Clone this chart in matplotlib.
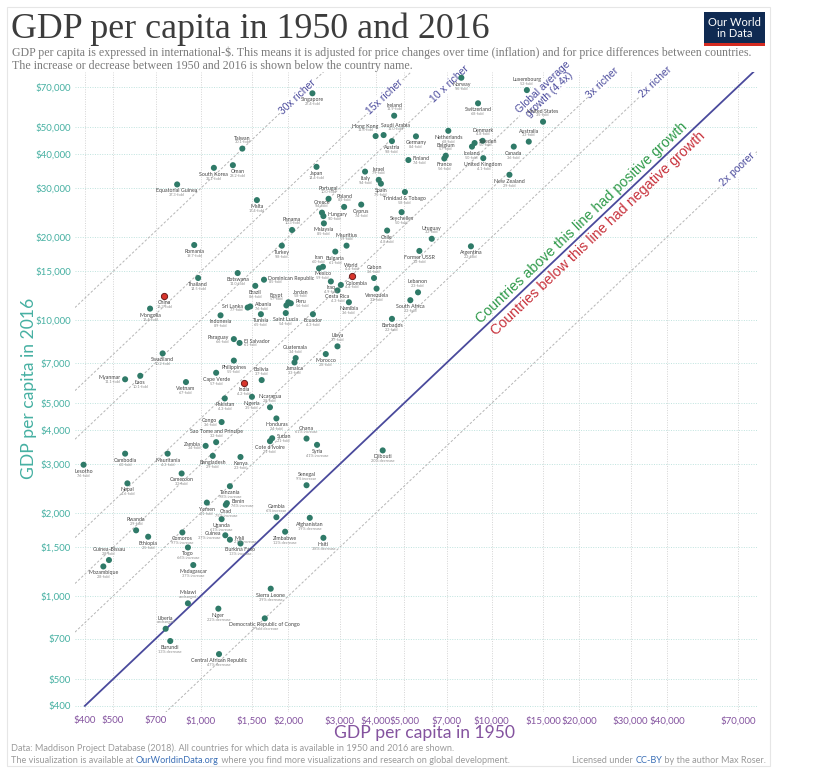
import math
import matplotlib
matplotlib.use("Agg")
import matplotlib.pyplot as plt
from matplotlib.patches import Rectangle
from matplotlib.ticker import NullLocator, FixedLocator
from matplotlib.transforms import IdentityTransform

# GDP per capita (int.-$)
countries = [
    "Singapore", "Ireland", "Hong Kong", "Saudi Arabia", "Austria", "Germany",
    "Netherlands", "Finland", "France", "Belgium", "Taiwan", "South Korea",
    "Oman", "Japan", "Israel", "Spain", "Italy", "Portugal", "Poland", "Cyprus",
    "Greece", "Hungary", "Malaysia", "Panama", "Malta", "Trinidad & Tobago",
    "Seychelles", "Chile", "Norway", "Luxembourg", "Switzerland",
    "United States", "Denmark", "Sweden", "Iceland", "Australia", "Canada",
    "United Kingdom", "New Zealand", "Uruguay", "Former USSR", "Argentina",
    "Equatorial Guinea", "Romania", "Thailand", "China", "Mongolia",
    "Botswana", "Dominican Republic", "Brazil", "Sri Lanka", "Albania",
    "Egypt", "Jordan", "Peru", "Tunisia", "Saint Lucia", "Indonesia",
    "Ecuador", "Paraguay", "El Salvador", "Swaziland", "Philippines",
    "Guatemala", "Jamaica", "Morocco", "Turkey", "Iran", "Mexico", "Bulgaria",
    "Mauritius", "Iraq", "World", "Gabon", "Colombia", "Costa Rica",
    "Venezuela", "Lebanon", "South Africa", "Namibia", "Barbados", "Libya",
    "Bolivia", "India", "Nigeria", "Nicaragua", "Myanmar", "Laos",
    "Cape Verde", "Vietnam", "Pakistan", "Congo", "Honduras",
    "Sao Tome and Principe", "Zambia", "Sudan", "Cote d'Ivoire", "Ghana",
    "Syria", "Cambodia", "Mauritania", "Bangladesh", "Kenya", "Lesotho",
    "Cameroon", "Nepal", "Senegal", "Tanzania", "Yemen", "Benin", "Chad",
    "Gambia", "Uganda", "Afghanistan", "Rwanda", "Ethiopia", "Comoros",
    "Guinea", "Mali", "Zimbabwe", "Haiti", "Burkina Faso", "Togo",
    "Guinea-Bissau", "Mozambique", "Madagascar", "Sierra Leone", "Malawi",
    "Niger", "Democratic Republic of Congo", "Liberia", "Burundi",
    "Central African Republic", "Djibouti",
]
gdp_1950 = [
    2420, 4620, 3990, 4250, 4540, 5490, 7090, 5170, 6870, 6950, 1390, 1110,
    1290, 2500, 4090, 4160, 3670, 2750, 3110, 3560, 2610, 2640, 2650, 2060,
    1560, 5030, 4900, 4370, 7860, 13200, 8970, 15000, 9300, 8730, 8550,
    13400, 11900, 9350, 11500, 6220, 5640, 8480, 830, 950, 980, 750, 670,
    1340, 1650, 1540, 1450, 1480, 1970, 2000, 2040, 1610, 1960, 1170, 2430,
    1300, 1360, 740, 1300, 2120, 2100, 2690, 1900, 2550, 2630, 2900, 3170,
    2800, 3300, 3940, 3030, 2950, 4020, 5580, 5250, 3230, 4540, 2950, 1620,
    1410, 1500, 1730, 550, 620, 1130, 890, 1210, 1180, 1820, 1130, 1040,
    1760, 1730, 2310, 2510, 550, 770, 1100, 1370, 396, 860, 560, 2310, 1260,
    1050, 1230, 1220, 1820, 1180, 2370, 600, 660, 865, 1215, 1260, 1950,
    2640, 1370, 904, 484, 463, 943, 1740, 904, 1150, 1660, 758, 786, 1156,
    4220,
]
gdp_2016 = [
    66300, 55000, 46400, 46800, 44500, 46300, 48500, 38000, 38500, 39400,
    41800, 35600, 36400, 35900, 32200, 31200, 34500, 27500, 25700, 26200,
    24500, 23800, 22400, 21200, 27200, 29100, 24600, 21100, 75500, 68100,
    61000, 52300, 44600, 43800, 42500, 44300, 42500, 38600, 33600, 19700,
    17800, 18500, 31000, 18700, 14200, 12200, 11000, 14800, 14000, 13300,
    11100, 11200, 11300, 11600, 11500, 10500, 10600, 10400, 10500, 8530,
    8260, 7570, 7130, 7280, 7020, 7530, 18600, 15400, 15600, 17700, 18600,
    13800, 14500, 14200, 13400, 12800, 13000, 12600, 11800, 11600, 10100,
    8030, 6060, 5900, 5270, 4830, 6100, 6280, 6440, 5960, 5200, 4270, 4400,
    3610, 3500, 3730, 3640, 3720, 3530, 3280, 3280, 3220, 3190, 2990, 2780,
    2560, 2520, 2500, 2180, 2170, 2140, 1930, 1900, 1920, 1730, 1640, 1700,
    1660, 1600, 1710, 1625, 1550, 1500, 1350, 1280, 1295, 1063, 941, 900,
    830, 761, 687, 616, 3370,
]

highlight = ["China", "India", "World"]

# where the country name sits relative to its dot (default: below)
label_side = {
    "Ireland": "a", "Hong Kong": "al", "Saudi Arabia": "ar", "Belgium": "a",
    "Taiwan": "a", "Israel": "a", "Sweden": "r", "Oman": "br",
    "Denmark": "a", "Australia": "a", "Luxembourg": "a", "United States": "a",
    "Finland": "r", "Portugal": "a", "Poland": "a", "Greece": "a",
    "Hungary": "r", "Panama": "a", "Mauritius": "a", "Iran": "a",
    "World": "a", "Gabon": "a", "Lebanon": "a",
    "Uruguay": "a", "Colombia": "r", "Libya": "a", "Guatemala": "a",
    "Bolivia": "a", "Nicaragua": "a", "Sudan": "r", "Ghana": "a",
    "Senegal": "a", "Zambia": "l", "Sao Tome and Principe": "a",
    "Congo": "l", "Paraguay": "l", "El Salvador": "r", "Sri Lanka": "l",
    "Albania": "r", "Egypt": "al", "Jordan": "ar", "Peru": "r",
    "Dominican Republic": "r", "Myanmar": "l", "Guinea-Bissau": "a",
    "Rwanda": "a", "Malawi": "a", "Liberia": "a", "Gambia": "a",
    "Benin": "r", "Mali": "r", "Guinea": "l",
}

multiples = [30, 15, 10, 4.4, 3, 2, 0.5]
multiple_labels = ["30x richer", "15x richer", "10 x richer",
                   "Global average\ngrowth (4.4x)", "3x richer", "2x richer",
                   "2x poorer"]
multiple_label_x = [2150, 4300, 7180, 15400, 24100, 36400, 70100]

x_ticks = [400, 500, 700, 1000, 1500, 2000, 3000, 4000, 5000, 7000, 10000,
           15000, 20000, 30000, 40000, 70000]
y_ticks = [400, 500, 700, 1000, 1500, 2000, 3000, 4000, 5000, 7000, 10000,
           15000, 20000, 30000, 40000, 50000, 70000]

W, H = 832, 778
TEAL = "#46b0a2"
PURPLE = "#84539f"
LINE_BLUE = "#4a4a9c"
DOT = "#2f7a68"

# pixel offsets (name, growth, alignment) for each label side
OFFSETS = {
    "b": ((0, -6.5), (0, -11), "center"),
    "br": ((5, -6.5), (5, -11), "center"),
    "a": ((0, 10.5), (0, 6.5), "center"),
    "al": ((-10, 10), (-10, 6), "center"),
    "ar": ((12, 10), (12, 6), "center"),
    "l": ((-4.5, 1.5), (-4.5, -2.5), "right"),
    "r": ((4.5, 1.5), (4.5, -2.5), "left"),
}


def growth_text(a, b):
    r = b / a
    if r >= 2:
        return f"{r:.1f}-fold"
    if r >= 1.05:
        return f"{(r - 1) * 100:.0f}% increase"
    if r > 0.95:
        return "unchanged"
    if r > 0.5:
        return f"{(1 - r) * 100:.0f}% decrease"
    return f"{1 / r:.0f}-fold decrease"


fig = plt.figure(figsize=(W / 100, H / 100), dpi=100)
ax = fig.add_axes([75 / W, 1 - 712 / H, (757 - 75) / W, (712 - 72) / H])
ax.set_xscale("log")
ax.set_yscale("log")
ax.set_xlim(370, 81500)
ax.set_ylim(380, 79200)

for s in ax.spines.values():
    s.set_visible(False)
ax.xaxis.set_major_locator(FixedLocator(x_ticks))
ax.yaxis.set_major_locator(FixedLocator(y_ticks))
ax.xaxis.set_minor_locator(NullLocator())
ax.yaxis.set_minor_locator(NullLocator())
ax.set_xticklabels([f"${v:,}" for v in x_ticks], family="Lato", fontsize=7,
                   color=PURPLE)
ax.set_yticklabels([f"${v:,}" for v in y_ticks], family="Lato", fontsize=7,
                   color=TEAL)
ax.tick_params(length=0, pad=3)
ax.grid(axis="x", color="#d4d4d4", linestyle=(0, (1, 1.5)), lw=0.7)
ax.grid(axis="y", color="#bfe3de", linestyle=(0, (1, 1.5)), lw=0.7)
ax.set_axisbelow(True)

# slope of the diagonal on screen
p1 = ax.transData.transform((1000, 1000))
p2 = ax.transData.transform((10000, 10000))
angle = math.degrees(math.atan2(p2[1] - p1[1], p2[0] - p1[0]))

xs = [370, 81500]
ax.plot([400, 81500], [400, 81500], color=LINE_BLUE, lw=1.3, zorder=2)
for m, lab, lx in zip(multiples, multiple_labels, multiple_label_x):
    ax.plot(xs, [m * v for v in xs], color="#b5b5b5", lw=0.7,
            linestyle=(0, (2.5, 2)), zorder=1)
    ax.text(lx, m * lx, lab, rotation=angle, rotation_mode="anchor",
            ha="center", va="center", color=LINE_BLUE, family="Liberation Sans",
            fontsize=7.5, linespacing=1.0, clip_on=False, zorder=2.5,
            bbox=dict(fc="white", ec="none", pad=0.8))

ax.text(20400, 22600, "Countries above this line had positive growth",
        rotation=angle, rotation_mode="anchor", ha="center", va="center",
        color="#2f9a4a", family="Liberation Sans", fontsize=10.3, zorder=2.5)
ax.text(23200, 20650, "Countries below this line had negative growth",
        rotation=angle, rotation_mode="anchor", ha="center", va="center",
        color="#c8323c", family="Liberation Sans", fontsize=10.3, zorder=2.5)

for name, a, b in zip(countries, gdp_1950, gdp_2016):
    if name in highlight:
        ax.scatter(a, b, s=20, color="#d8352c", edgecolor="#6a1c1c",
                   linewidth=0.7, zorder=4)
    else:
        ax.scatter(a, b, s=19, color=DOT, edgecolor="none", zorder=4)
    n_off, g_off, ha = OFFSETS[label_side.get(name, "b")]
    ax.annotate(name, (a, b), xytext=n_off, textcoords="offset pixels",
                ha=ha, va="center", fontsize=3.8, family="Lato",
                color="#444444", zorder=5)
    ax.annotate(growth_text(a, b), (a, b), xytext=g_off,
                textcoords="offset pixels", ha=ha, va="center", fontsize=2.8,
                family="Lato", color="#8a8a8a", zorder=5)

fig.text(424 / W, 1 - 733 / H, "GDP per capita in 1950", family="Lato",
         fontsize=12.6, color=PURPLE, ha="center", va="center")
fig.text(29 / W, 1 - 388 / H, "GDP per capita in 2016", family="Lato",
         fontsize=12.6, color=TEAL, ha="center", va="center", rotation=90)

# header
fig.text(11 / W, 1 - 38 / H, "GDP per capita in 1950 and 2016",
         family="Liberation Serif", fontsize=25.8, color="#3c3c3c",
         va="baseline")
fig.text(12 / W, 1 - 56 / H,
         "GDP per capita is expressed in international-$. This means it is "
         "adjusted for price changes over time (inflation) and for price "
         "differences between countries.",
         family="Liberation Serif", fontsize=8.6, color="#7a7a7a",
         va="baseline")
fig.text(12 / W, 1 - 69.5 / H,
         "The increase or decrease between 1950 and 2016 is shown below the "
         "country name.",
         family="Liberation Serif", fontsize=8.6, color="#7a7a7a",
         va="baseline")

# logo
fig.patches.append(Rectangle((704 / W, 1 - 46 / H), 61 / W, 34 / H,
                             transform=fig.transFigure, fc="#0f2a52",
                             ec="none"))
fig.patches.append(Rectangle((704 / W, 1 - 46 / H), 61 / W, 3.5 / H,
                             transform=fig.transFigure, fc="#d42b21",
                             ec="none"))
fig.text(734.5 / W, 1 - 28 / H, "Our World\nin Data", family="Lato",
         fontsize=8, color="white", ha="center", va="center",
         linespacing=1.0)

# frame around the whole chart
fig.patches.append(Rectangle((7 / W, 1 - 766 / H), 763 / W, 759 / H,
                             transform=fig.transFigure, fill=False,
                             ec="#e6e6e6", lw=0.8))

renderer = fig.canvas.get_renderer()


def measure(s, **kw):
    t = fig.text(0, 0, s + "|", transform=IdentityTransform(), **kw)
    w = t.get_window_extent(renderer).width
    t.remove()
    t = fig.text(0, 0, "|", transform=IdentityTransform(), **kw)
    w -= t.get_window_extent(renderer).width
    t.remove()
    return w


def text_run(x_px, y_px, pieces, ha="left", **kw):
    full = "".join(p for p, _ in pieces)
    start = x_px if ha == "left" else x_px - measure(full, **kw)
    prefix = ""
    for s, c in pieces:
        fig.text(start + measure(prefix, **kw) if prefix else start,
                 H - y_px, s, color=c, transform=IdentityTransform(),
                 va="baseline", **kw)
        prefix += s


FOOT = dict(family="Lato", fontsize=6.6)
GREY = "#9a9a9a"
LINK = "#3b6fb6"
text_run(11, 751, [("Data: Maddison Project Database (2018). All countries for "
                    "which data is available in 1950 and 2016 are shown.",
                    GREY)], **FOOT)
text_run(11, 763, [("The visualization is available at ", GREY),
                   ("OurWorldinData.org", LINK),
                   (" where you find more visualizations and research on "
                    "global development.", GREY)], **FOOT)
text_run(766, 763, [("Licensed under ", GREY), ("CC-BY", LINK),
                    (" by the author Max Roser.", GREY)], ha="right", **FOOT)

fig.savefig("out.png", dpi=100)
